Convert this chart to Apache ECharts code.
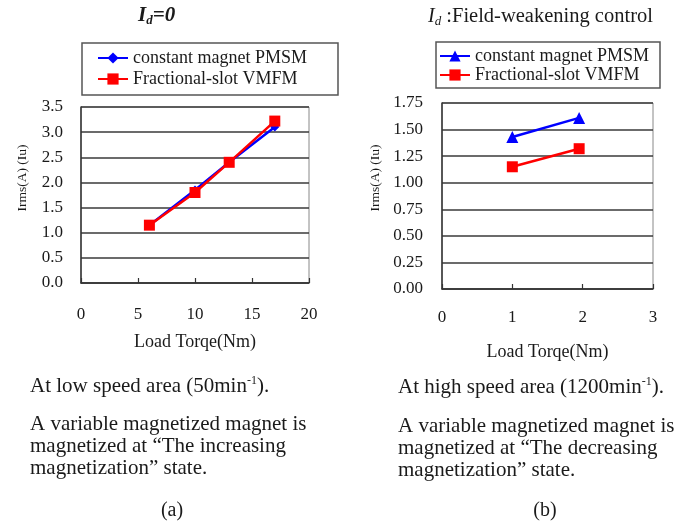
<!DOCTYPE html>
<html>
<head>
<meta charset="utf-8">
<script src="https://cdn.jsdelivr.net/npm/echarts@6/dist/echarts.min.js"></script>
<style>
html,body{margin:0;padding:0;background:#fff;}
#chart{width:686px;height:524px;}
</style>
</head>
<body>
<div id="chart"></div>
<script>
// ---- data ----
const seriesNames = ['constant magnet PMSM', 'Fractional-slot VMFM'];
const torqueA = [6, 10, 13, 17];
const pmsmA = [1.15, 1.85, 2.4, 3.1];
const vmfmA = [1.15, 1.8, 2.4, 3.22];
const torqueB = [1, 1.95];
const pmsmB = [1.43, 1.61];
const vmfmB = [1.15, 1.32];
const xRangeA = [0, 20, 5];
const yRangeA = [0, 3.5, 0.5];
const xRangeB = [0, 3, 1];
const yRangeB = [0, 1.75, 0.25];
const xName = 'Load Torqe(Nm)';
const yName = 'Irms(A) (Iu)';

const FF = 'Liberation Serif';
const TC = '#1a1a1a';
const zip = (xs, ys) => xs.map((x, i) => [x, ys[i]]);

function xAxisCfg(idx, r, labelMargin, nameGap) {
  return {
    gridIndex: idx, type: 'value', min: r[0], max: r[1], interval: r[2],
    axisLine: {show: true, lineStyle: {color: '#333', width: 1.5}},
    axisTick: {show: true, inside: true, length: 5, lineStyle: {color: '#333', width: 1.2}},
    splitLine: {show: false},
    axisLabel: {margin: labelMargin, fontSize: 17, fontFamily: FF, color: TC},
    name: xName, nameLocation: 'middle', nameGap: nameGap,
    nameTextStyle: {fontSize: 18, fontFamily: FF, color: TC}
  };
}
function yAxisCfg(idx, r, digits, margin) {
  return {
    gridIndex: idx, type: 'value', min: r[0], max: r[1], interval: r[2],
    axisLine: {show: true, lineStyle: {color: '#333', width: 1.5}},
    axisTick: {show: false},
    splitLine: {show: true, lineStyle: {color: '#3a3a3a', width: 1.6}},
    axisLabel: {margin: margin, fontSize: 17, fontFamily: FF, color: TC,
      formatter: v => v.toFixed(digits)}
  };
}
function legendCfg(left, top, padding, gap, names) {
  return {
    left: left, top: top, orient: 'vertical', padding: padding, itemGap: gap,
    itemWidth: 30, itemHeight: 14,
    borderColor: '#555', borderWidth: 1.5, borderRadius: 0,
    data: names,
    formatter: n => n.replace(' (b)', ''),
    textStyle: {fontSize: 18, fontFamily: FF, color: TC, lineHeight: 18}
  };
}

const bodyRich = {
  a: {fontSize: 21, fontFamily: FF, fontWeight: 'normal', color: TC, lineHeight: 22},
  s: {fontSize: 12, fontFamily: FF, fontWeight: 'normal', color: TC, lineHeight: 11, verticalAlign: 'top'}
};

const option = {
  backgroundColor: '#fff',
  animation: false,
  title: [
    {left: 138, top: 4, padding: 0,
     text: '{i|I}{d|d}{i|=0}',
     textStyle: {fontWeight: 'normal', rich: {
       i: {fontSize: 21, fontFamily: FF, fontStyle: 'italic', fontWeight: 'bold', color: TC, lineHeight: 23},
       d: {fontSize: 13, fontFamily: FF, fontStyle: 'italic', fontWeight: 'bold', color: TC, lineHeight: 13, verticalAlign: 'bottom'}
     }}},
    {left: 428, top: 5, padding: 0,
     text: '{i|I}{d|d}{r| :Field-weakening control}',
     textStyle: {fontWeight: 'normal', rich: {
       i: {fontSize: 20, fontFamily: FF, fontStyle: 'italic', fontWeight: 'normal', color: TC, lineHeight: 23},
       d: {fontSize: 13, fontFamily: FF, fontStyle: 'italic', fontWeight: 'normal', color: TC, lineHeight: 13, verticalAlign: 'bottom'},
       r: {fontSize: 20.5, fontFamily: FF, fontWeight: 'normal', color: TC, lineHeight: 23}
     }}},
    {left: 30, top: 375, padding: 0,
     text: '{a|At low speed area (50min}{s|-1}{a|).}', textStyle: {fontWeight: 'normal', rich: bodyRich}},
    {left: 30, top: 413, padding: 0,
     text: '{a|A variable magnetized magnet is}\n{a|magnetized at \u201cThe increasing}\n{a|magnetization\u201d state.}',
     textStyle: {fontWeight: 'normal', rich: bodyRich}},
    {left: 398, top: 376, padding: 0,
     text: '{a|At high speed area (1200min}{s|-1}{a|).}', textStyle: {fontWeight: 'normal', rich: bodyRich}},
    {left: 398, top: 415, padding: 0,
     text: '{a|A variable magnetized magnet is}\n{a|magnetized at \u201cThe decreasing}\n{a|magnetization\u201d state.}',
     textStyle: {fontWeight: 'normal', rich: bodyRich}}
  ],
  graphic: [
    {type: 'text', x: 22, y: 178, rotation: Math.PI / 2,
     style: {text: yName, font: '13.5px "Liberation Serif"', fill: TC, textAlign: 'center', textVerticalAlign: 'middle'}},
    {type: 'text', x: 375, y: 178, rotation: Math.PI / 2,
     style: {text: yName, font: '13.5px "Liberation Serif"', fill: TC, textAlign: 'center', textVerticalAlign: 'middle'}},
    {type: 'text', x: 172, y: 511,
     style: {text: '(a)', font: '20px "Liberation Serif"', fill: TC, textAlign: 'center', textVerticalAlign: 'middle'}},
    {type: 'text', x: 545, y: 511,
     style: {text: '(b)', font: '20px "Liberation Serif"', fill: TC, textAlign: 'center', textVerticalAlign: 'middle'}}
  ],
  legend: [
    legendCfg(82, 43, [6, 31, 7, 15], 3, seriesNames),
    legendCfg(436, 42, [5, 11, 4, 3], 1, seriesNames.map(n => n + ' (b)'))
  ],
  grid: [
    {left: 81, top: 107, width: 228, height: 176, show: true, borderColor: '#888', borderWidth: 1, backgroundColor: 'transparent'},
    {left: 442, top: 103, width: 211, height: 186, show: true, borderColor: '#888', borderWidth: 1, backgroundColor: 'transparent'}
  ],
  xAxis: [xAxisCfg(0, xRangeA, 23, 50), xAxisCfg(1, xRangeB, 20, 54)],
  yAxis: [yAxisCfg(0, yRangeA, 1, 18), yAxisCfg(1, yRangeB, 2, 19)],
  series: [
    {name: seriesNames[0], type: 'line', xAxisIndex: 0, yAxisIndex: 0,
     data: zip(torqueA, pmsmA), color: '#0000ff', symbol: 'diamond', symbolSize: 9,
     lineStyle: {width: 2.5}},
    {name: seriesNames[1], type: 'line', xAxisIndex: 0, yAxisIndex: 0,
     data: zip(torqueA, vmfmA), color: '#ff0000', symbol: 'rect', symbolSize: 11,
     lineStyle: {width: 2.5}},
    {name: seriesNames[0] + ' (b)', type: 'line', xAxisIndex: 1, yAxisIndex: 1,
     data: zip(torqueB, pmsmB), color: '#0000ff', symbol: 'triangle', symbolSize: 12,
     lineStyle: {width: 2.5}},
    {name: seriesNames[1] + ' (b)', type: 'line', xAxisIndex: 1, yAxisIndex: 1,
     data: zip(torqueB, vmfmB), color: '#ff0000', symbol: 'rect', symbolSize: 11,
     lineStyle: {width: 2.5}}
  ]
};

const chart = echarts.init(document.getElementById('chart'), null, {renderer: 'canvas'});
chart.setOption(option);
</script>
</body>
</html>
